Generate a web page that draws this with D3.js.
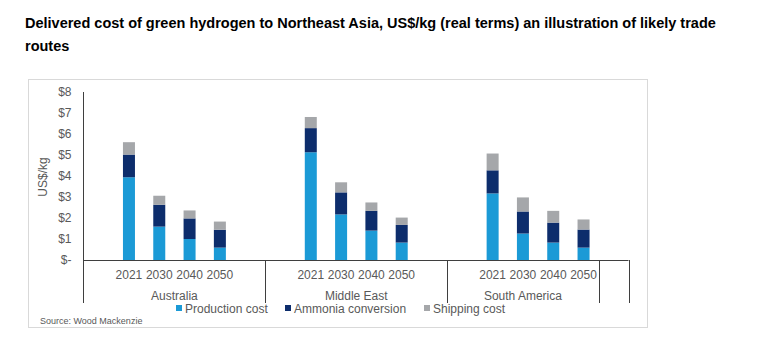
<!DOCTYPE html>
<html><head><meta charset="utf-8">
<script src="https://cdn.jsdelivr.net/npm/d3@7"></script>
<style>body{margin:0;background:#fff;font-family:"Liberation Sans",Arial,sans-serif}</style>
</head><body><svg id="c" width="758" height="355"></svg>
<script>
const groups = ["Australia", "Middle East", "South America"];
const years = ["2021", "2030", "2040", "2050"];
const seriesNames = ["Production cost", "Ammonia conversion", "Shipping cost"];
const colors = ["#1b9ad6", "#0d2d6c", "#a5a7aa"];
const production = [3.94, 1.59, 1.00, 0.59, 5.13, 2.17, 1.40, 0.83, 3.17, 1.26, 0.83, 0.59];
const ammonia    = [1.08, 1.04, 0.98, 0.85, 1.15, 1.05, 0.94, 0.84, 1.10, 1.05, 0.95, 0.86];
const shipping   = [0.59, 0.43, 0.38, 0.39, 0.53, 0.48, 0.40, 0.35, 0.80, 0.67, 0.56, 0.48];
const yTicks = [0, 1, 2, 3, 4, 5, 6, 7, 8];
const yTickLabels = ["$-", "$1", "$2", "$3", "$4", "$5", "$6", "$7", "$8"];

const svg = d3.select("#c");
const txt = "#595959";

// title
svg.append("text").attr("x", 25).attr("y", 28).attr("font-size", 14.5).attr("font-weight", "bold").attr("fill", "#000")
  .text("Delivered cost of green hydrogen to Northeast Asia, US$/kg (real terms) an illustration of likely trade");
svg.append("text").attr("x", 25).attr("y", 51).attr("font-size", 14.5).attr("font-weight", "bold").attr("fill", "#000")
  .text("routes");

// chart border
svg.append("rect").attr("x", 28.5).attr("y", 79.5).attr("width", 619).attr("height", 248)
  .attr("fill", "none").attr("stroke", "#d9d9d9");

// slots: each group has a blank slot, four years, a blank slot (last group: blank, 4 years, then an empty trailing group)
const slots = [];
groups.forEach((g, gi) => {
  slots.push(g + "|pre");
  years.forEach(y => slots.push(g + "|" + y));
  if (gi < groups.length - 1) slots.push(g + "|post");
});
slots.push("extra|blank");

const x0 = 83.5, x1 = 629;
const x = d3.scaleBand().domain(slots).range([x0, x1]).paddingInner(0.6).paddingOuter(0.3);
const step = x.step();
const y = d3.scaleLinear().domain([0, 8]).range([260, 92]);

// data rows
const rows = [];
groups.forEach((g, gi) => years.forEach((yr, yi) => {
  const i = gi * 4 + yi;
  rows.push({key: g + "|" + yr, year: yr, "Production cost": production[i], "Ammonia conversion": ammonia[i], "Shipping cost": shipping[i]});
}));
const stack = d3.stack().keys(seriesNames)(rows);

const bw = 12;
svg.append("g").selectAll("g").data(stack).join("g").attr("fill", (d, i) => colors[i])
  .selectAll("rect").data(d => d).join("rect")
  .attr("x", d => x(d.data.key) + x.bandwidth() / 2 - bw / 2)
  .attr("width", bw)
  .attr("y", d => y(d[1]))
  .attr("height", d => y(d[0]) - y(d[1]));

// y axis
const yAxis = d3.axisLeft(y).tickValues(yTicks).tickFormat((d, i) => yTickLabels[i]).tickSize(0).tickPadding(12);
const ga = svg.append("g").attr("transform", `translate(${x0},0)`).call(yAxis);
ga.select(".domain").remove();
ga.selectAll("text").attr("font-size", 12).attr("fill", txt).attr("font-family", "Liberation Sans, Arial, sans-serif");

const lineCol = "#3f3f3f";
svg.append("line").attr("x1", x0).attr("x2", x0).attr("y1", 92).attr("y2", 303).attr("stroke", lineCol);
svg.append("line").attr("x1", x0).attr("x2", 628.5).attr("y1", y(0) + 0.5).attr("y2", y(0) + 0.5).attr("stroke", lineCol);

// group separators
const groupStart = gi => x(groups[gi] + "|pre") - (step - x.bandwidth()) / 2;
const seps = [groupStart(1), groupStart(2), x("extra|blank") - (step - x.bandwidth()) / 2, 628.5];
seps.forEach(sx => svg.append("line").attr("x1", Math.round(sx) + 0.5).attr("x2", Math.round(sx) + 0.5)
  .attr("y1", y(0)).attr("y2", 303).attr("stroke", lineCol));

// year labels
svg.append("g").selectAll("text").data(rows).join("text")
  .attr("x", d => x(d.key) + x.bandwidth() / 2).attr("y", 278.5)
  .attr("text-anchor", "middle").attr("font-size", 12).attr("fill", txt).text(d => d.year);

// group labels
const groupEnds = [groupStart(1), groupStart(2), x("extra|blank") - (step - x.bandwidth()) / 2];
groups.forEach((g, gi) => {
  const s = gi === 0 ? x0 : groupStart(gi);
  svg.append("text").attr("x", (s + groupEnds[gi]) / 2).attr("y", 300)
    .attr("text-anchor", "middle").attr("font-size", 12).attr("fill", txt).text(g);
});

// y title
svg.append("text").attr("transform", "translate(47,177) rotate(-90)").attr("text-anchor", "middle")
  .attr("font-size", 12).attr("fill", txt).text("US$/kg");

// legend
const legX = [176, 285, 424];
seriesNames.forEach((s, i) => {
  svg.append("rect").attr("x", legX[i]).attr("y", 305).attr("width", 6).attr("height", 6).attr("fill", colors[i]);
  svg.append("text").attr("x", legX[i] + 9).attr("y", 312.5).attr("font-size", 12).attr("fill", txt).text(s);
});

// source
svg.append("text").attr("x", 40).attr("y", 323.5).attr("font-size", 9).attr("fill", txt).text("Source: Wood Mackenzie");
</script></body></html>
